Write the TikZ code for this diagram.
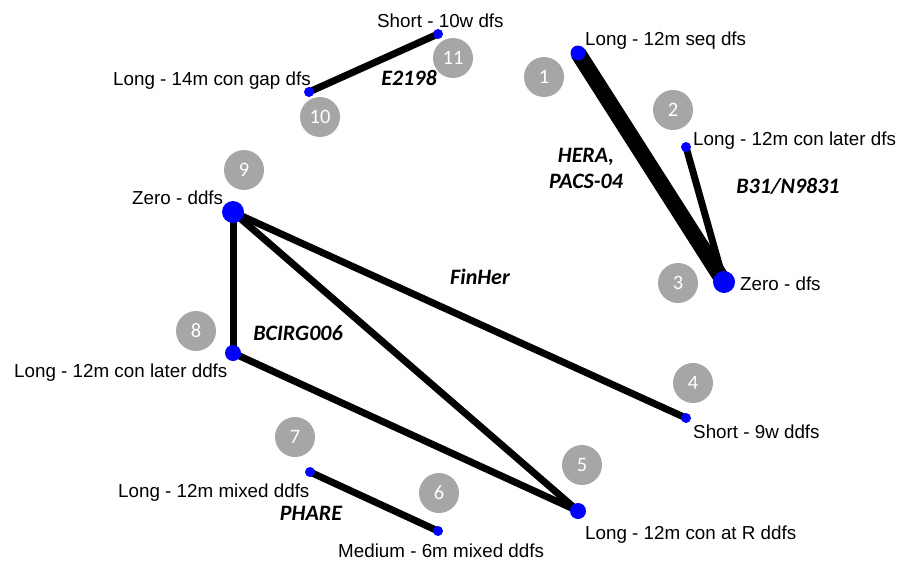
\documentclass[tikz,border=0pt]{standalone}
\usepackage{fontspec}
\setmainfont{Liberation Sans}
\newfontfamily\carl{Carlito}
\definecolor{numgray}{HTML}{A6A6A6}
\pgfdeclarelayer{bg}
\pgfsetlayers{bg,main}
\begin{document}
\begin{tikzpicture}[x=1pt,y=-1pt,
  dot/.style={circle,fill=blue,inner sep=0pt,minimum size=#1},
  num/.style={circle,fill=numgray,inner sep=0pt,minimum size=40pt,text=white,font=\carl\fontsize{20.5}{22}\selectfont},
  lbl/.style={inner sep=0pt,anchor=base west,font=\fontsize{18.8}{22}\selectfont},
  trial/.style={inner sep=0pt,anchor=base,align=center,font=\carl\bfseries\itshape\fontsize{22}{26}\selectfont},
  link/.style={line width=7pt},
  biglink/.style={line width=16pt}]
\useasboundingbox (0,0) rectangle (901,560);
% grey number circles
\node[num] (c1) at (544,77) {1};
\node[num] (c2) at (673,110) {2};
\node[num] (c3) at (678,283) {3};
\node[num] (c4) at (693,383) {4};
\node[num] (c5) at (582,465) {5};
\node[num] (c6) at (439,493) {6};
\node[num] (c7) at (295,437) {7};
\node[num] (c8) at (196,331) {8};
\node[num] (c9) at (244,170) {9};
\node[num] (c10) at (320,117) {10};
\node[num] (c11) at (453,58) {11};
% treatment dots
\node[dot=15pt] (n1) at (578,53) {};
\node[dot=10pt] (n2) at (686,147) {};
\node[dot=22pt] (n3) at (724,282) {};
\node[dot=10pt] (n4) at (686,418) {};
\node[dot=16pt] (n5) at (578,511) {};
\node[dot=10pt] (n6) at (438,531) {};
\node[dot=10pt] (n7) at (310,472) {};
\node[dot=16pt] (n8) at (233,353) {};
\node[dot=22pt] (n9) at (233,212) {};
\node[dot=10pt] (n10) at (309,92) {};
\node[dot=10pt] (n11) at (438,34) {};
% connectors
\begin{pgfonlayer}{bg}
\draw[biglink] (n1.center) -- (n3.center);
\draw[link] (n2.center) -- (n3.center);
\draw[link] (n9.center) -- (n4.center);
\draw[link] (n9.center) -- (n8.center);
\draw[link] (n9.center) -- (n5.center);
\draw[link] (n8.center) -- (n5.center);
\draw[link] (n7.center) -- (n6.center);
\draw[link] (n10.center) -- (n11.center);
\end{pgfonlayer}
% node labels
\node[lbl] (l1) at (585,45) {Long - 12m seq dfs};
\node[lbl] (l2) at (693,145) {Long - 12m con later dfs};
\node[lbl] (l3) at (740,290) {Zero - dfs};
\node[lbl] (l4) at (693,438) {Short - 9w ddfs};
\node[lbl] (l5) at (585,539) {Long - 12m con at R ddfs};
\node[lbl] (l6) at (338,557) {Medium - 6m mixed ddfs};
\node[lbl] (l7) at (118,497) {Long - 12m mixed ddfs};
\node[lbl] (l8) at (14,377) {Long - 12m con later ddfs};
\node[lbl] (l9) at (132,204) {Zero - ddfs};
\node[lbl] (l10) at (113,85) {Long - 14m con gap dfs};
\node[lbl] (l11) at (377,27) {Short - 10w dfs};
% trial labels
\node[trial] (tE) at (409,85) {E2198};
\node[trial] (tH) at (586,188) {HERA,\\PACS-04};
\node[trial] (tB) at (788,193) {B31/N9831};
\node[trial] (tF) at (480,284) {FinHer};
\node[trial] (tC) at (298,340) {BCIRG006};
\node[trial] (tP) at (311,520) {PHARE};
\end{tikzpicture}
\end{document}
